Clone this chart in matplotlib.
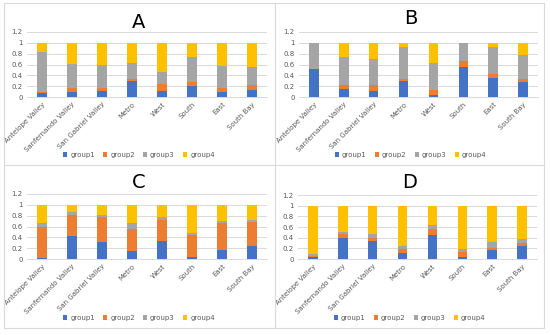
import numpy as np
import matplotlib
matplotlib.use("Agg")
import matplotlib.pyplot as plt
from matplotlib.patches import Rectangle
from matplotlib.lines import Line2D

regions = ["Antelope Valley", "Sanfernando Valley", "San Gabriel Valley", "Metro",
           "West", "South", "East", "South Bay"]
groups = ["group1", "group2", "group3", "group4"]

# share of each group per region, one array per panel
a_g1 = [0.07, 0.10, 0.12, 0.29, 0.12, 0.20, 0.10, 0.13]
a_g2 = [0.03, 0.07, 0.05, 0.04, 0.12, 0.07, 0.06, 0.10]
a_g3 = [0.74, 0.44, 0.42, 0.30, 0.22, 0.47, 0.42, 0.32]
a_g4 = [0.16, 0.39, 0.41, 0.37, 0.54, 0.26, 0.42, 0.45]

b_g1 = [0.52, 0.14, 0.12, 0.29, 0.03, 0.56, 0.35, 0.28]
b_g2 = [0.00, 0.08, 0.11, 0.04, 0.10, 0.10, 0.08, 0.06]
b_g3 = [0.48, 0.52, 0.47, 0.60, 0.50, 0.33, 0.49, 0.44]
b_g4 = [0.00, 0.26, 0.30, 0.07, 0.37, 0.01, 0.08, 0.22]

c_g1 = [0.01, 0.42, 0.31, 0.14, 0.34, 0.03, 0.17, 0.24]
c_g2 = [0.59, 0.40, 0.46, 0.42, 0.38, 0.41, 0.50, 0.44]
c_g3 = [0.06, 0.05, 0.04, 0.10, 0.06, 0.04, 0.04, 0.04]
c_g4 = [0.34, 0.13, 0.19, 0.34, 0.22, 0.52, 0.29, 0.28]

d_g1 = [0.03, 0.40, 0.33, 0.12, 0.45, 0.03, 0.16, 0.25]
d_g2 = [0.03, 0.06, 0.07, 0.06, 0.12, 0.10, 0.05, 0.05]
d_g3 = [0.04, 0.05, 0.07, 0.07, 0.06, 0.05, 0.11, 0.08]
d_g4 = [0.90, 0.49, 0.53, 0.75, 0.37, 0.82, 0.68, 0.62]

yticks = [0, 0.2, 0.4, 0.6, 0.8, 1, 1.2]
ytick_labels = ["0", "0.2", "0.4", "0.6", "0.8", "1", "1.2"]

colors = ["#4472C4", "#ED7D31", "#A5A5A5", "#FFC000"]
grid_c = "#D9D9D9"
text_c = "#595959"

W, H = 550, 335
fig = plt.figure(figsize=(W / 100, H / 100), dpi=100)

def fx(px):
    return px / W

def fy(py):
    return 1 - py / H

# panel frame: outer box plus the cross in the middle
fig.add_artist(Rectangle((fx(4), fy(328)), fx(540), 325 / H, transform=fig.transFigure,
                         fill=False, edgecolor=grid_c, linewidth=0.8))
fig.add_artist(Line2D([fx(275), fx(275)], [fy(3), fy(328)], transform=fig.transFigure,
                      color=grid_c, linewidth=0.8))
fig.add_artist(Line2D([fx(4), fx(544)], [fy(165), fy(165)], transform=fig.transFigure,
                      color=grid_c, linewidth=0.8))

panels = [
    ("A", [a_g1, a_g2, a_g3, a_g4], 27, 267, 32, 97, 22, 155),
    ("B", [b_g1, b_g2, b_g3, b_g4], 299, 538, 32, 97, 19, 155),
    ("C", [c_g1, c_g2, c_g3, c_g4], 27, 267, 194, 259, 183, 318),
    ("D", [d_g1, d_g2, d_g3, d_g4], 298, 537, 195, 259, 183, 318),
]

x = np.arange(len(regions))
for title, data, x0, x1, ytop, ybot, ty, ly in panels:
    ax = fig.add_axes([fx(x0), fy(ybot), (x1 - x0) / W, (ybot - ytop) / H])
    bottom = np.zeros(len(regions))
    handles = []
    for vals, col, name in zip(data, colors, groups):
        h = ax.bar(x, vals, 0.32, bottom=bottom, color=col, label=name, zorder=3)
        bottom += np.array(vals)
        handles.append(h)
    ax.set_xlim(-0.5, len(regions) - 0.5)
    ax.set_ylim(0, 1.2)
    ax.set_yticks(yticks)
    ax.set_yticklabels(ytick_labels)
    ax.yaxis.grid(True, color=grid_c, linewidth=0.7, zorder=0)
    for s in ["top", "right", "left"]:
        ax.spines[s].set_visible(False)
    ax.spines["bottom"].set_color(grid_c)
    ax.spines["bottom"].set_linewidth(0.7)
    ax.tick_params(length=0, labelsize=5, colors=text_c, pad=3)
    ax.set_xticks(x)
    ax.set_xticklabels(regions, rotation=45, ha="right", rotation_mode="anchor", fontsize=5)
    fig.text(fx((x0 + x1) / 2 - 8), fy(ty), title, ha="center", va="center", fontsize=14,
             color="black")
    fig.legend(handles=handles, labels=groups, loc="center",
               bbox_to_anchor=(fx((x0 + x1) / 2 - 8), fy(ly)), ncol=4, frameon=False,
               fontsize=5, handlelength=0.6, handleheight=0.6, handletextpad=0.4,
               columnspacing=1.2, labelcolor=text_c)

fig.savefig("out.png", dpi=100)
